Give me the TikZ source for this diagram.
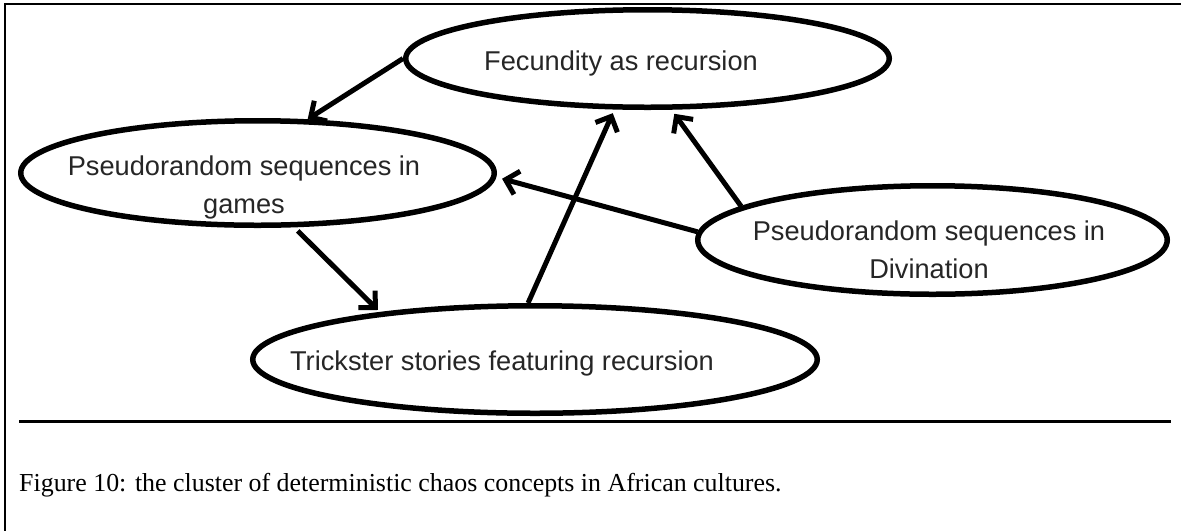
\documentclass[tikz,border=0pt]{standalone}
\usepackage{fontspec}
\setmainfont{Liberation Serif}
\newfontfamily\diagfont{Liberation Sans}
\usetikzlibrary{shapes.geometric,arrows.meta}

\tikzset{
  oval/.style={draw, ellipse, line width=5.5pt, inner sep=0pt, fill=white},
  lbl/.style={font=\diagfont\fontsize{27.2}{38}\selectfont, text=black!85, align=center, inner sep=0pt},
  link/.style={line width=5pt, -{Straight Barb[length=12pt,width=24pt]}},
  frame/.style={line width=2.2pt},
  captext/.style={font=\fontsize{25.9}{30}\selectfont, inner sep=0pt}
}

\begin{document}
\begin{tikzpicture}[x=1pt,y=-1pt]
  \useasboundingbox (0,0) rectangle (1181,531);

  % outer frame and caption rule
  \coordinate (tl) at (5,4);
  \coordinate (tr) at (1181,4);
  \coordinate (bl) at (5,531);
  \draw[frame] (tr) -- (tl) -- (bl);
  \coordinate (rl) at (19,421.5);
  \coordinate (rr) at (1171,421.5);
  \draw[frame] (rl) -- (rr);

  % concept ovals
  \node[oval, minimum width=483.5pt, minimum height=97.5pt]  (fec)   at (647.5,58.5) {};
  \node[oval, minimum width=473.5pt, minimum height=104.5pt] (games) at (257.5,173) {};
  \node[oval, minimum width=469.5pt, minimum height=108.5pt] (div)   at (932.5,240) {};
  \node[oval, minimum width=564.5pt, minimum height=107.5pt] (trick) at (535,359.5) {};

  % labels (base anchor sits on the last line)
  \node[lbl, anchor=base] (fect) at (621,70) {Fecundity as recursion};
  \node[lbl, anchor=base] (gamest) at (244,213) {Pseudorandom sequences in\\games};
  \node[lbl, anchor=base] (divt) at (929,278) {Pseudorandom sequences in\\Divination};
  \node[lbl, anchor=base] (trickt) at (502,370) {Trickster stories featuring recursion};

  % connectors
  \draw[link] (fec.180) -- (games.47);
  \draw[link, shorten <=5pt, shorten >=3pt] (games.-56) -- (trick.163);
  \draw[link, shorten >=4pt] (trick.97.4) -- (fec.-123.9);
  \draw[link, shorten >=5pt] (div.170.8) -- (fec.-65.1);
  \draw[link, shorten >=6pt] (div.178.2) -- (games.-1);

  % caption
  \node[captext, anchor=base west] (cap) at (19,491.7)
    {Figure 10: the cluster of deterministic chaos concepts in African cultures.};
\end{tikzpicture}
\end{document}
